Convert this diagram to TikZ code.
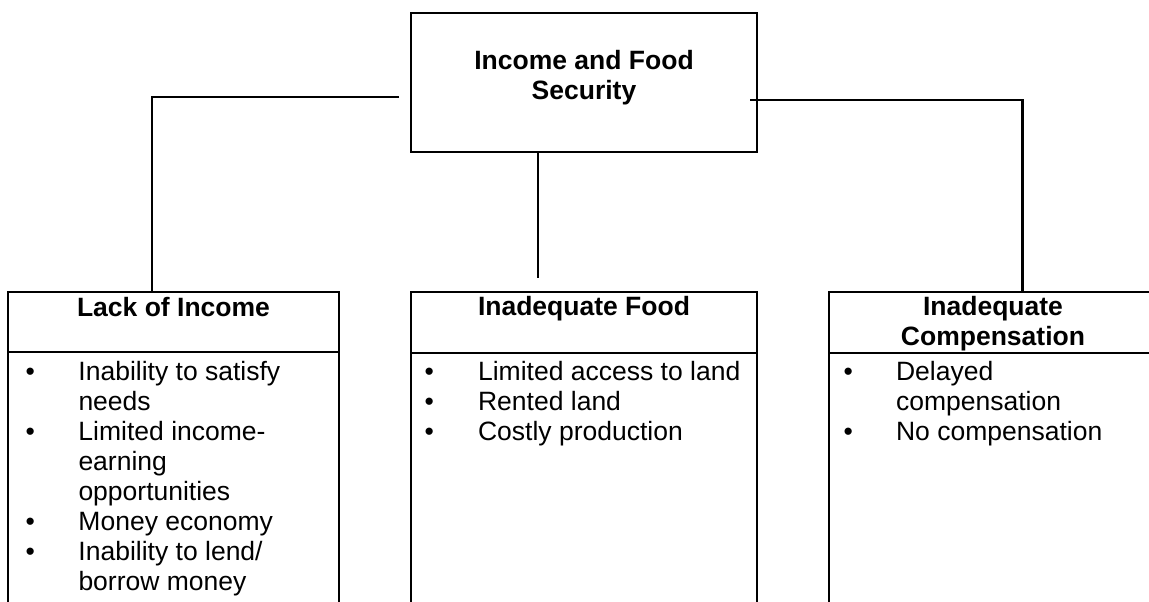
\documentclass[tikz,border=0pt]{standalone}
\usepackage{fontspec}
\setmainfont{Liberation Sans}
\usetikzlibrary{calc}
\begin{document}
\begin{tikzpicture}[x=0.5pt,y=-0.5pt,line width=1.1pt,
  box/.style={draw,line width=1pt,inner sep=0pt,outer sep=0pt},
  conn/.style={draw,line width=1.2pt},
  ttl/.style={inner sep=0pt,anchor=base,font=\fontsize{13.25pt}{15pt}\selectfont\bfseries,align=center},
  lst/.style={inner sep=0pt,anchor=base west,font=\fontsize{13.25pt}{15pt}\selectfont}]
\useasboundingbox (0,0) rectangle (1149,601);
\clip (0,0) rectangle (1149,601);
% boxes
\node[box,minimum width=173pt,minimum height=69.5pt] (top) at (584,82.5) {};
\node[box,minimum width=165.5pt,minimum height=174pt] (lack) at (173.5,466) {};
\node[box,minimum width=173pt,minimum height=174pt] (food) at (584,466) {};
\node[box,minimum width=164.5pt,minimum height=174pt] (comp) at (993,466) {};
% header separators
\draw[line width=1pt] ($(lack.north west)+(0,60)$) -- ($(lack.north east)+(0,60)$);
\draw[line width=1pt] ($(food.north west)+(0,61)$) -- ($(food.north east)+(0,61)$);
\draw[line width=1pt] ($(comp.north west)+(0,61)$) -- ($(comp.north east)+(0,61)$);
% titles
\node[ttl] (toptext) at (584,99) {Income and Food\\Security};
\node[ttl] (lacktitle) at (173.5,316) {Lack of Income};
\node[ttl] (foodtitle) at (584,315) {Inadequate Food};
\node[ttl] (comptitle) at (993,345) {Inadequate\\Compensation};
% lists
\node[lst] (lacklist) at (24.4,380) {\begin{tabular}[t]{@{}p{26.5pt}@{}l@{}}
\textbullet & Inability to satisfy\\
 & needs\\
\textbullet & Limited income-\\
 & earning\\
 & opportunities\\
\textbullet & Money economy\\
\textbullet & Inability to lend/\\
 & borrow money
\end{tabular}};
\node[lst] (foodlist) at (423.4,380) {\begin{tabular}[t]{@{}p{26.8pt}@{}l@{}}
\textbullet & Limited access to land\\
\textbullet & Rented land\\
\textbullet & Costly production
\end{tabular}};
\node[lst] (complist) at (842.4,380) {\begin{tabular}[t]{@{}p{26.3pt}@{}l@{}}
\textbullet & Delayed\\
 & compensation\\
\textbullet & No compensation
\end{tabular}};
% connectors
\coordinate (midend) at (538,278);
\draw[conn] ($(top.west)+(-12,14.5)$) -| ($(lack.north west)+(144,0)$);
\draw[conn] ($(top.east)+(-7,17.5)$) -| ($(comp.north west)+(194,0)$);
\draw[conn] ($(top.south)+(-46,0)$) -- (midend);
\end{tikzpicture}
\end{document}
